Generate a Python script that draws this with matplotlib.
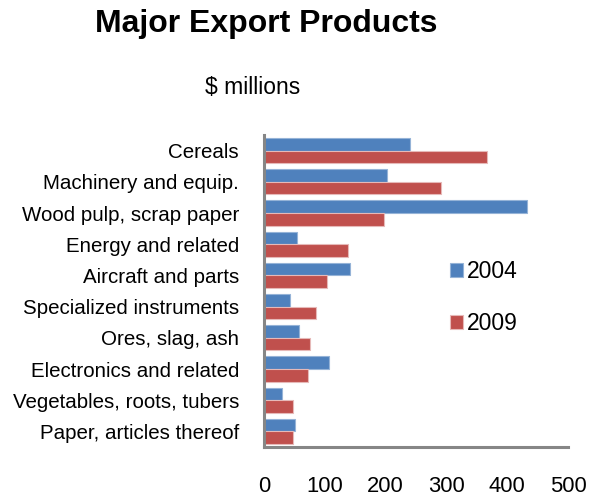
import numpy as np
import matplotlib as mpl

mpl.use('agg')

import matplotlib.pyplot as plt

## data ($ millions)
categories = ['Cereals', 'Machinery and equip.', 'Wood pulp, scrap paper',
              'Energy and related', 'Aircraft and parts', 'Specialized instruments',
              'Ores, slag, ash', 'Electronics and related',
              'Vegetables, roots, tubers', 'Paper, articles thereof']
values_2004 = [240, 203, 433, 55, 142, 43, 58, 107, 30, 51]
values_2009 = [366, 291, 197, 138, 103, 86, 76, 73, 48, 48]
x_ticks = [0, 100, 200, 300, 400, 500]

plt.rcParams['font.family'] = ['Liberation Sans', 'DejaVu Sans']

fig = plt.figure(figsize=(6.02, 4.98), dpi=100)
ax = fig.add_axes([264 / 602, (498 - 447) / 498, (568 - 264) / 602, (447 - 135) / 498])

y = np.arange(len(categories))
h = 0.405
ax.barh(y - h / 2, values_2004, height=h, color='#4F81BD', edgecolor='#95B3D7',
        linewidth=0.8, label='2004')
ax.barh(y + h / 2, values_2009, height=h, color='#C0504D', edgecolor='#E6B9B8',
        linewidth=0.8, label='2009')

ax.set_ylim(len(categories) - 0.5, -0.5)
ax.set_xlim(0, 500)
ax.set_yticks(y)
ax.set_yticklabels(categories, fontsize=14.8)
ax.set_xticks(x_ticks)
ax.set_xticklabels([str(t) for t in x_ticks], fontsize=15.8)
ax.tick_params(axis='y', length=0, pad=18)
ax.tick_params(axis='x', length=0, pad=21)

for s in ['top', 'right']:
    ax.spines[s].set_visible(False)
for s in ['left', 'bottom']:
    ax.spines[s].set_color('#868686')
    ax.spines[s].set_linewidth(2.2)

leg = ax.legend(loc='upper left', bbox_to_anchor=((441 - 264) / 304, (447 - 251) / 312),
                frameon=False, fontsize=16.5, handlelength=0.55, handleheight=0.55,
                handletextpad=0.2, labelspacing=1.25, borderaxespad=0)

fig.text(266 / 602, 1 - 24 / 498, 'Major Export Products', ha='center', va='center',
         fontsize=23, fontweight='bold')
fig.text(253 / 602, 1 - 87 / 498, '$ millions', ha='center', va='center', fontsize=16.5)

fig.savefig('out.png', dpi=100)
